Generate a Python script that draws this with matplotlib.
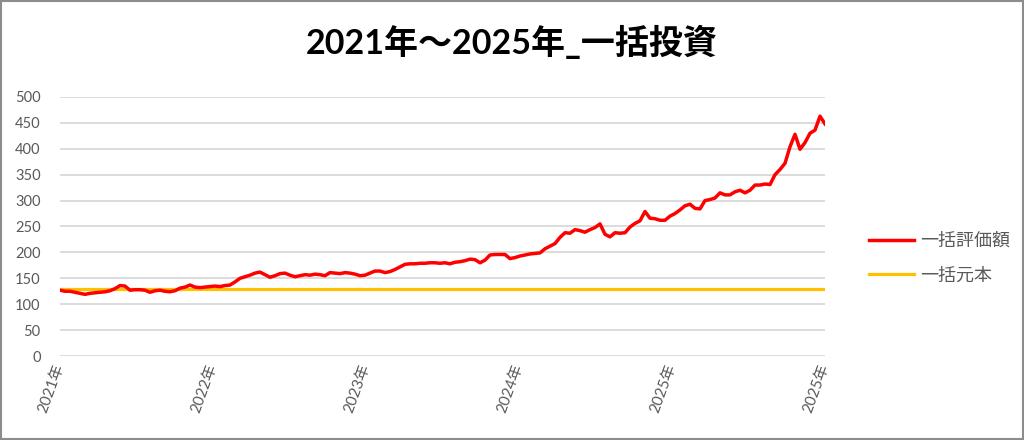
import numpy as np
import matplotlib
matplotlib.use('Agg')
import matplotlib.pyplot as plt
from matplotlib.patches import Rectangle

plt.rcParams['font.family'] = ['Lato', 'Noto Sans CJK JP', 'DejaVu Sans']

title = '2021年～2025年_一括投資'
series_names = ['一括評価額', '一括元本']
tick_labels = ['2021年', '2022年', '2023年', '2024年', '2025年', '2025年']
principal = 130

# valuation at even steps
valuation = [
    127, 125, 125, 123, 121, 119, 121, 122, 123, 124, 126, 130, 136, 135, 127, 128,
    128, 127, 123, 126, 127, 125, 124, 126, 131, 133, 137, 133, 132, 133, 134, 135,
    134, 136, 137, 143, 150, 153, 156, 160, 162, 157, 152, 155, 159, 160, 156, 153,
    155, 157, 156, 158, 157, 155, 161, 160, 159, 161, 160, 158, 155, 156, 160, 164,
    164, 161, 163, 167, 172, 177, 178, 178, 179, 179, 180, 180, 179, 180, 178, 181,
    182, 184, 187, 186, 180, 185, 195, 196, 196, 196, 188, 190, 193, 195, 197, 198,
    199, 207, 212, 217, 229, 238, 237, 244, 242, 239, 244, 248, 255, 235, 230, 238,
    237, 238, 249, 256, 261, 279, 266, 265, 262, 262, 270, 275, 282, 290, 293, 285,
    284, 300, 302, 305, 315, 311, 311, 317, 320, 315, 320, 330, 330, 332, 331, 350,
    360, 372, 404, 428, 399, 412, 430, 436, 463, 448,
]

n = len(valuation)
x = np.arange(n)

fig = plt.figure(figsize=(10.24, 4.4), dpi=100)
ax = fig.add_axes([60 / 1024, 1 - 356 / 440, 765 / 1024, 259 / 440])

ax.plot(x, valuation, color='#FF0000', linewidth=2.5, label=series_names[0], zorder=3)
ax.plot(x, [principal] * n, color='#FFC000', linewidth=2.3, label=series_names[1], zorder=2)

ax.set_xlim(0, n - 1)
ax.set_ylim(0, 500)
ax.set_yticks(np.arange(0, 501, 50))
ax.grid(axis='y', color='#d9d9d9', linewidth=1.3)
ax.set_axisbelow(True)
for s in ax.spines.values():
    s.set_visible(False)

ax.set_xticks(np.linspace(0, n - 1, len(tick_labels)))
ax.set_xticklabels(tick_labels, rotation=70, ha='right', va='center',
                   rotation_mode='anchor')
ax.tick_params(axis='both', length=0, colors='#595959', labelsize=10.5)
ax.tick_params(axis='x', labelsize=11, pad=6)
ax.tick_params(axis='y', pad=14)

fig.text(0.5, 1 - 43 / 440, title, ha='center', va='center',
         fontsize=24.5, fontweight='bold', color='black')

leg = fig.legend(loc='center left', bbox_to_anchor=(853 / 1024, 1 - 258 / 440),
                 frameon=False, fontsize=13, handlelength=2.5, labelspacing=1.0,
                 handletextpad=0.3)
for t in leg.get_texts():
    t.set_color('#595959')

fig.patches.append(Rectangle((0.001, 0.002), 0.998, 0.996, transform=fig.transFigure,
                             fill=False, edgecolor='#8c8c8c', linewidth=1.5))

fig.savefig('out.png', dpi=100, facecolor='white')
